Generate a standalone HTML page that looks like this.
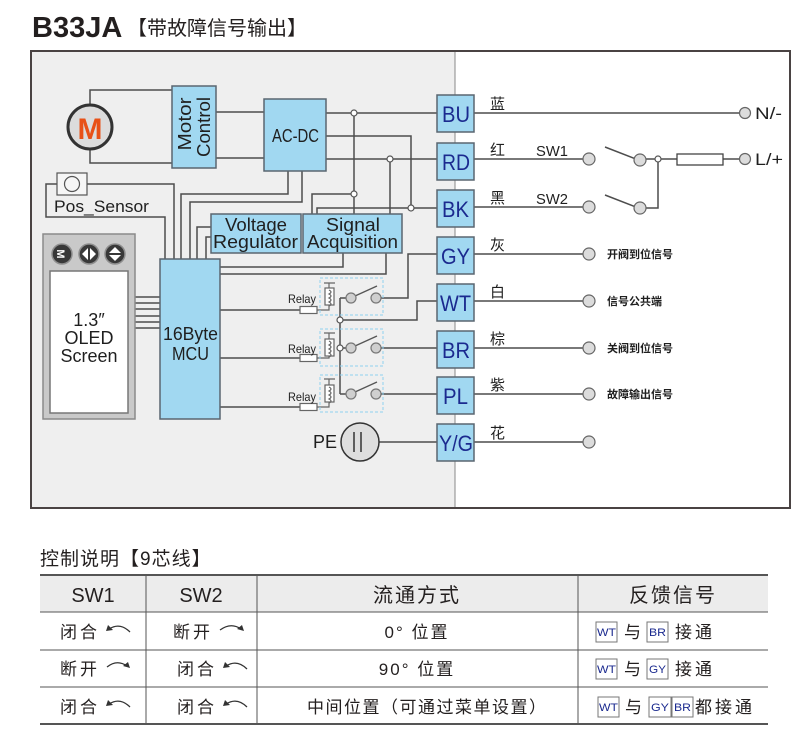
<!DOCTYPE html>
<html><head><meta charset="utf-8">
<style>
body{margin:0;background:#fff}
svg{display:block}
.l{font-family:"Liberation Sans",sans-serif}
.c{font-family:"Liberation Sans","Noto Sans CJK SC",sans-serif}
</style></head><body>
<svg width="800" height="731" viewBox="0 0 800 731" xmlns="http://www.w3.org/2000/svg">
<!-- title -->
<text x="32" y="37" class="l" font-size="29" font-weight="bold" fill="#231f1f">B33JA</text>
<text x="127" y="35" class="c" font-size="20" fill="#231f1f">【带故障信号输出】</text>

<!-- frame -->
<rect x="31" y="51" width="424" height="457" fill="#efefef"/>
<rect x="455" y="51" width="335" height="457" fill="#fff"/>
<line x1="455" y1="51" x2="455" y2="508" stroke="#8a8a8a" stroke-width="1"/>
<rect x="31" y="51" width="759" height="457" fill="none" stroke="#4a4343" stroke-width="2"/>

<g stroke="#4d4d4d" stroke-width="1.5" fill="none">
<!-- motor wires -->
<path d="M90,105 V90 H172 M90,149 V163 H172"/>
<path d="M216,112 H264 M216,158 H264"/>
<!-- AC-DC to terminals -->
<path d="M326,113 H437"/>
<path d="M326,136 H411 V208"/>
<path d="M317,214 V208 H437"/>
<path d="M326,159 H437"/>
<path d="M390,159 V214"/>
<path d="M354,113 V214"/>
<path d="M312,214 V194 H354"/>
<!-- AC-DC bottom to MCU -->
<path d="M288,171 V194 H181 V259"/>
<path d="M302,171 V202 H190 V259"/>
<!-- pos sensor -->
<path d="M57,184 H46 V217 H165 V259"/>
<path d="M87,184 H174 V259"/>
<!-- voltage regulator -->
<path d="M211,227 H197 V259 M211,237 H206 V259"/>
<!-- signal acquisition bottom -->
<path d="M343,253 V267 H220 M386,253 V274 H220"/>
<!-- OLED to MCU -->
<path d="M135,297 H160 M135,303 H160 M135,309 H160 M135,316 H160 M135,322 H160 M135,328 H160"/>
<!-- MCU to relays -->
<path d="M220,310 H300 M220,358 H300 M220,407 H300"/>
<!-- relay outputs -->
<path d="M340,298 V394 M340,298 H346 M340,348 H346 M340,394 H346"/>
<path d="M340,320 H417 V301 H437"/>
<path d="M381,298 H408 V254 H437"/>
<path d="M381,348 H437 M381,394 H437"/>
<!-- PE -->
<path d="M366,442 H437"/>
<!-- right side -->
<path d="M474,113 H740"/>
<path d="M474,159 H583 M474,207 H583"/>
<path d="M605,147 L636,159 M605,195 L636,207"/>
<path d="M646,159 H655 M661,159 H677 M723,159 H739"/>
<path d="M646,208 H658 V162"/>
<path d="M474,254 H583 M474,301 H583 M474,348 H583 M474,394 H583 M474,442 H583"/>
</g>

<!-- motor -->
<circle cx="90" cy="127" r="22" fill="#dcdcdc" stroke="#333" stroke-width="3"/>
<text x="90" y="139" text-anchor="middle" class="l" font-size="30" font-weight="bold" fill="#e85117">M</text>

<!-- blue boxes -->
<g fill="#a1d8f1" stroke="#5a6670" stroke-width="1.5">
<rect x="172" y="86" width="44" height="82"/>
<rect x="264" y="99" width="62" height="72"/>
<rect x="211" y="214" width="90" height="39"/>
<rect x="303" y="214" width="99" height="39"/>
<rect x="160" y="259" width="60" height="160"/>
<rect x="437" y="95" width="37" height="37"/>
<rect x="437" y="143" width="37" height="37"/>
<rect x="437" y="190" width="37" height="37"/>
<rect x="437" y="237" width="37" height="37"/>
<rect x="437" y="284" width="37" height="37"/>
<rect x="437" y="331" width="37" height="37"/>
<rect x="437" y="377" width="37" height="37"/>
<rect x="437" y="424" width="37" height="37"/>
</g>

<g class="l" fill="#1f1f1f" font-size="18">
<text transform="translate(191,124) rotate(-90)" text-anchor="middle" textLength="53" lengthAdjust="spacingAndGlyphs">Motor</text>
<text transform="translate(210,127) rotate(-90)" text-anchor="middle" textLength="60" lengthAdjust="spacingAndGlyphs">Control</text>
<text x="272" y="142" textLength="47" lengthAdjust="spacingAndGlyphs">AC-DC</text>
<text x="225" y="231" textLength="62" lengthAdjust="spacingAndGlyphs">Voltage</text>
<text x="213" y="248" textLength="85" lengthAdjust="spacingAndGlyphs">Regulator</text>
<text x="326" y="231" textLength="54" lengthAdjust="spacingAndGlyphs">Signal</text>
<text x="307" y="248" textLength="91" lengthAdjust="spacingAndGlyphs">Acquisition</text>
<text x="163" y="340" textLength="55" lengthAdjust="spacingAndGlyphs">16Byte</text>
<text x="172" y="360" textLength="37" lengthAdjust="spacingAndGlyphs">MCU</text>
<text x="54" y="212" font-size="17" textLength="95" lengthAdjust="spacingAndGlyphs">Pos_Sensor</text>
<text x="313" y="448">PE</text>
</g>

<!-- pos sensor -->
<rect x="57" y="173" width="30" height="22" fill="#f6f6f6" stroke="#555" stroke-width="1.2"/>
<circle cx="72" cy="184" r="7.5" fill="none" stroke="#555" stroke-width="1.2"/>

<!-- OLED -->
<rect x="43" y="234" width="92" height="185" fill="#c9c9c9" stroke="#8a8a8a" stroke-width="1.5"/>
<rect x="50" y="271" width="78" height="142" fill="#fff" stroke="#777" stroke-width="1.5"/>
<g stroke="#8e8e8e" stroke-width="1.5" fill="#383838">
<circle cx="62" cy="254" r="10"/>
<circle cx="89" cy="254" r="10"/>
<circle cx="115" cy="254" r="10"/>
</g>
<text transform="translate(57,254) rotate(90)" text-anchor="middle" class="l" font-size="11" font-weight="bold" fill="#fff">M</text>
<g fill="#fff">
<polygon points="82,254 88,248 88,260"/>
<polygon points="96,254 90,248 90,260"/>
<polygon points="115,247 109,253 121,253"/>
<polygon points="115,261 109,255 121,255"/>
</g>
<g class="l" fill="#1f1f1f" font-size="18" text-anchor="middle">
<text x="89" y="326">1.3″</text>
<text x="89" y="344">OLED</text>
<text x="89" y="362">Screen</text>
</g>

<!-- relays -->
<g stroke="#666" stroke-width="1.2" fill="#fff">
<rect x="300" y="306.5" width="17" height="7"/>
<rect x="300" y="354.5" width="17" height="7"/>
<rect x="300" y="403.5" width="17" height="7"/>
<rect x="325" y="288" width="9" height="17"/>
<rect x="325" y="339" width="9" height="17"/>
<rect x="325" y="385" width="9" height="17"/>
</g>
<g stroke="#666" stroke-width="1.2" fill="none">
<path d="M317,310 H329 V305 M329,288 V283 M324,283 H335"/>
<path d="M317,358 H329 V356 M329,339 V333 M324,333 H335"/>
<path d="M317,407 H329 V402 M329,385 V379 M324,379 H335"/>
<path d="M329,290 q4,2 0,4 q4,2 0,4 q4,2 0,4 q4,2 0,4"/>
<path d="M329,341 q4,2 0,4 q4,2 0,4 q4,2 0,4 q4,2 0,4"/>
<path d="M329,387 q4,2 0,4 q4,2 0,4 q4,2 0,4 q4,2 0,4"/>
</g>
<g fill="none" stroke="#8fd0ef" stroke-width="1" stroke-dasharray="3,2">
<rect x="320" y="278" width="63" height="37"/>
<rect x="320" y="329" width="63" height="37"/>
<rect x="320" y="375" width="63" height="37"/>
</g>
<g class="l" font-size="12" fill="#1f1f1f">
<text x="288" y="303" textLength="28" lengthAdjust="spacingAndGlyphs">Relay</text>
<text x="288" y="353" textLength="28" lengthAdjust="spacingAndGlyphs">Relay</text>
<text x="288" y="401" textLength="28" lengthAdjust="spacingAndGlyphs">Relay</text>
</g>
<g stroke="#555" stroke-width="1.3">
<line x1="355" y1="296" x2="377" y2="286"/>
<line x1="355" y1="346" x2="377" y2="336"/>
<line x1="355" y1="392" x2="377" y2="382"/>
</g>
<g fill="#cfcfcf" stroke="#777" stroke-width="1.2">
<circle cx="351" cy="298" r="5"/><circle cx="376" cy="298" r="5"/>
<circle cx="351" cy="348" r="5"/><circle cx="376" cy="348" r="5"/>
<circle cx="351" cy="394" r="5"/><circle cx="376" cy="394" r="5"/>
</g>
<g fill="#fff" stroke="#555" stroke-width="1.2">
<circle cx="340" cy="320" r="3"/>
<circle cx="340" cy="348" r="3"/>
<circle cx="354" cy="113" r="3"/>
<circle cx="354" cy="194" r="3"/>
<circle cx="390" cy="159" r="3"/>
<circle cx="411" cy="208" r="3"/>
<circle cx="658" cy="159" r="3"/>
</g>

<!-- PE -->
<circle cx="360" cy="442" r="19" fill="#dedede" stroke="#333" stroke-width="1.5"/>
<path d="M354,432 V452 M361,432 V452" stroke="#333" stroke-width="1.5"/>

<!-- terminal labels -->
<g class="l" font-size="22" fill="#1b2a8f">
<text x="442" y="122" textLength="28" lengthAdjust="spacingAndGlyphs">BU</text>
<text x="442" y="170" textLength="28" lengthAdjust="spacingAndGlyphs">RD</text>
<text x="442" y="217" textLength="27" lengthAdjust="spacingAndGlyphs">BK</text>
<text x="441" y="264" textLength="29" lengthAdjust="spacingAndGlyphs">GY</text>
<text x="440" y="311" textLength="31" lengthAdjust="spacingAndGlyphs">WT</text>
<text x="442" y="358" textLength="28" lengthAdjust="spacingAndGlyphs">BR</text>
<text x="443" y="404" textLength="25" lengthAdjust="spacingAndGlyphs">PL</text>
<text x="439" y="451" textLength="34" lengthAdjust="spacingAndGlyphs">Y/G</text>
</g>

<!-- right side -->
<g class="c" font-size="15" fill="#1f1f1f">
<text x="490" y="109">蓝</text>
<text x="490" y="155">红</text>
<text x="490" y="203">黑</text>
<text x="490" y="250">灰</text>
<text x="490" y="297">白</text>
<text x="490" y="344">棕</text>
<text x="490" y="390">紫</text>
<text x="490" y="438">花</text>
<text x="536" y="156" class="l" textLength="32" lengthAdjust="spacingAndGlyphs">SW1</text>
<text x="536" y="204" class="l" textLength="32" lengthAdjust="spacingAndGlyphs">SW2</text>
<text x="755" y="119" class="l" font-size="17" textLength="27" lengthAdjust="spacingAndGlyphs">N/-</text>
<text x="755" y="165" class="l" font-size="17" textLength="28" lengthAdjust="spacingAndGlyphs">L/+</text>
</g>
<g class="c" font-size="11" font-weight="bold" fill="#1f1f1f">
<text x="607" y="258">开阀到位信号</text>
<text x="607" y="305">信号公共端</text>
<text x="607" y="352">关阀到位信号</text>
<text x="607" y="398">故障输出信号</text>
</g>
<rect x="677" y="154" width="46" height="11" fill="#fff" stroke="#444" stroke-width="1.3"/>
<g fill="#dcdcdc" stroke="#666" stroke-width="1.2">
<circle cx="745" cy="113" r="5.5"/>
<circle cx="745" cy="159" r="5.5"/>
<circle cx="589" cy="159" r="6"/>
<circle cx="589" cy="207" r="6"/>
<circle cx="640" cy="160" r="6"/>
<circle cx="640" cy="208" r="6"/>
<circle cx="589" cy="254" r="6"/>
<circle cx="589" cy="301" r="6"/>
<circle cx="589" cy="348" r="6"/>
<circle cx="589" cy="394" r="6"/>
<circle cx="589" cy="442" r="6"/>
</g>

<!-- table -->
<text x="40" y="565" class="c" font-size="19" fill="#231f1f" letter-spacing="1">控制说明【9芯线】</text>
<rect x="40" y="576" width="728" height="36" fill="#ececec"/>
<g stroke="#555">
<line x1="40" y1="575" x2="768" y2="575" stroke-width="2"/>
<line x1="40" y1="612" x2="768" y2="612" stroke-width="1"/>
<line x1="40" y1="650" x2="768" y2="650" stroke-width="1"/>
<line x1="40" y1="687" x2="768" y2="687" stroke-width="1"/>
<line x1="40" y1="724" x2="768" y2="724" stroke-width="2"/>
<line x1="146" y1="575" x2="146" y2="724" stroke-width="1"/>
<line x1="257" y1="575" x2="257" y2="724" stroke-width="1"/>
<line x1="578" y1="575" x2="578" y2="724" stroke-width="1"/>
</g>
<g class="c" font-size="20" fill="#231f1f" text-anchor="middle">
<text x="93" y="602" class="l">SW1</text>
<text x="201" y="602" class="l">SW2</text>
<text x="417" y="602" letter-spacing="2">流通方式</text>
<text x="673" y="602" letter-spacing="2">反馈信号</text>
</g>
<g class="c" font-size="17" fill="#231f1f">
<text x="60" y="638" letter-spacing="3">闭合</text>
<text x="173" y="638" letter-spacing="3">断开</text>
<text x="60" y="675" letter-spacing="3">断开</text>
<text x="177" y="675" letter-spacing="3">闭合</text>
<text x="60" y="713" letter-spacing="3">闭合</text>
<text x="177" y="713" letter-spacing="3">闭合</text>
<text x="417" y="638" text-anchor="middle" letter-spacing="2">0° 位置</text>
<text x="417" y="675" text-anchor="middle" letter-spacing="2">90° 位置</text>
<text x="307" y="713" letter-spacing="1.5">中间位置（可通过菜单设置）</text>
<text x="624" y="638">与</text>
<text x="675" y="638" letter-spacing="3">接通</text>
<text x="624" y="675">与</text>
<text x="675" y="675" letter-spacing="3">接通</text>
<text x="625" y="713">与</text>
<text x="695" y="713" letter-spacing="3">都接通</text>
</g>
<!-- arrows -->
<g fill="none" stroke="#333" stroke-width="1.3">
<path d="M130,632 Q120,622 109,629"/>
<path d="M220,630 Q231,622 241,629"/>
<path d="M107,667 Q117,659 127,666"/>
<path d="M247,669 Q237,659 226,666"/>
<path d="M130,707 Q120,697 109,704"/>
<path d="M247,707 Q237,697 226,704"/>
</g>
<g fill="#333">
<polygon points="106,631 108,625 113,630"/>
<polygon points="244,631 237,629 242,625"/>
<polygon points="130,668 123,666 128,662"/>
<polygon points="223,668 225,662 230,667"/>
<polygon points="106,706 108,700 113,705"/>
<polygon points="223,706 225,700 230,705"/>
</g>
<!-- small label boxes -->
<g fill="#fff" stroke="#777" stroke-width="1">
<rect x="596" y="622" width="21" height="20"/>
<rect x="647" y="622" width="21" height="20"/>
<rect x="596" y="659" width="21" height="20"/>
<rect x="647" y="659" width="21" height="20"/>
<rect x="598" y="697" width="21" height="20"/>
<rect x="649" y="697" width="22" height="20"/>
<rect x="672" y="697" width="21" height="20"/>
</g>
<g class="l" font-size="11" fill="#1b2a8f">
<text x="597" y="636" textLength="19" lengthAdjust="spacingAndGlyphs">WT</text>
<text x="649" y="636" textLength="17" lengthAdjust="spacingAndGlyphs">BR</text>
<text x="597" y="673" textLength="19" lengthAdjust="spacingAndGlyphs">WT</text>
<text x="649" y="673" textLength="17" lengthAdjust="spacingAndGlyphs">GY</text>
<text x="599" y="711" textLength="19" lengthAdjust="spacingAndGlyphs">WT</text>
<text x="651" y="711" textLength="18" lengthAdjust="spacingAndGlyphs">GY</text>
<text x="674" y="711" textLength="17" lengthAdjust="spacingAndGlyphs">BR</text>
</g>
</svg>
</body></html>
